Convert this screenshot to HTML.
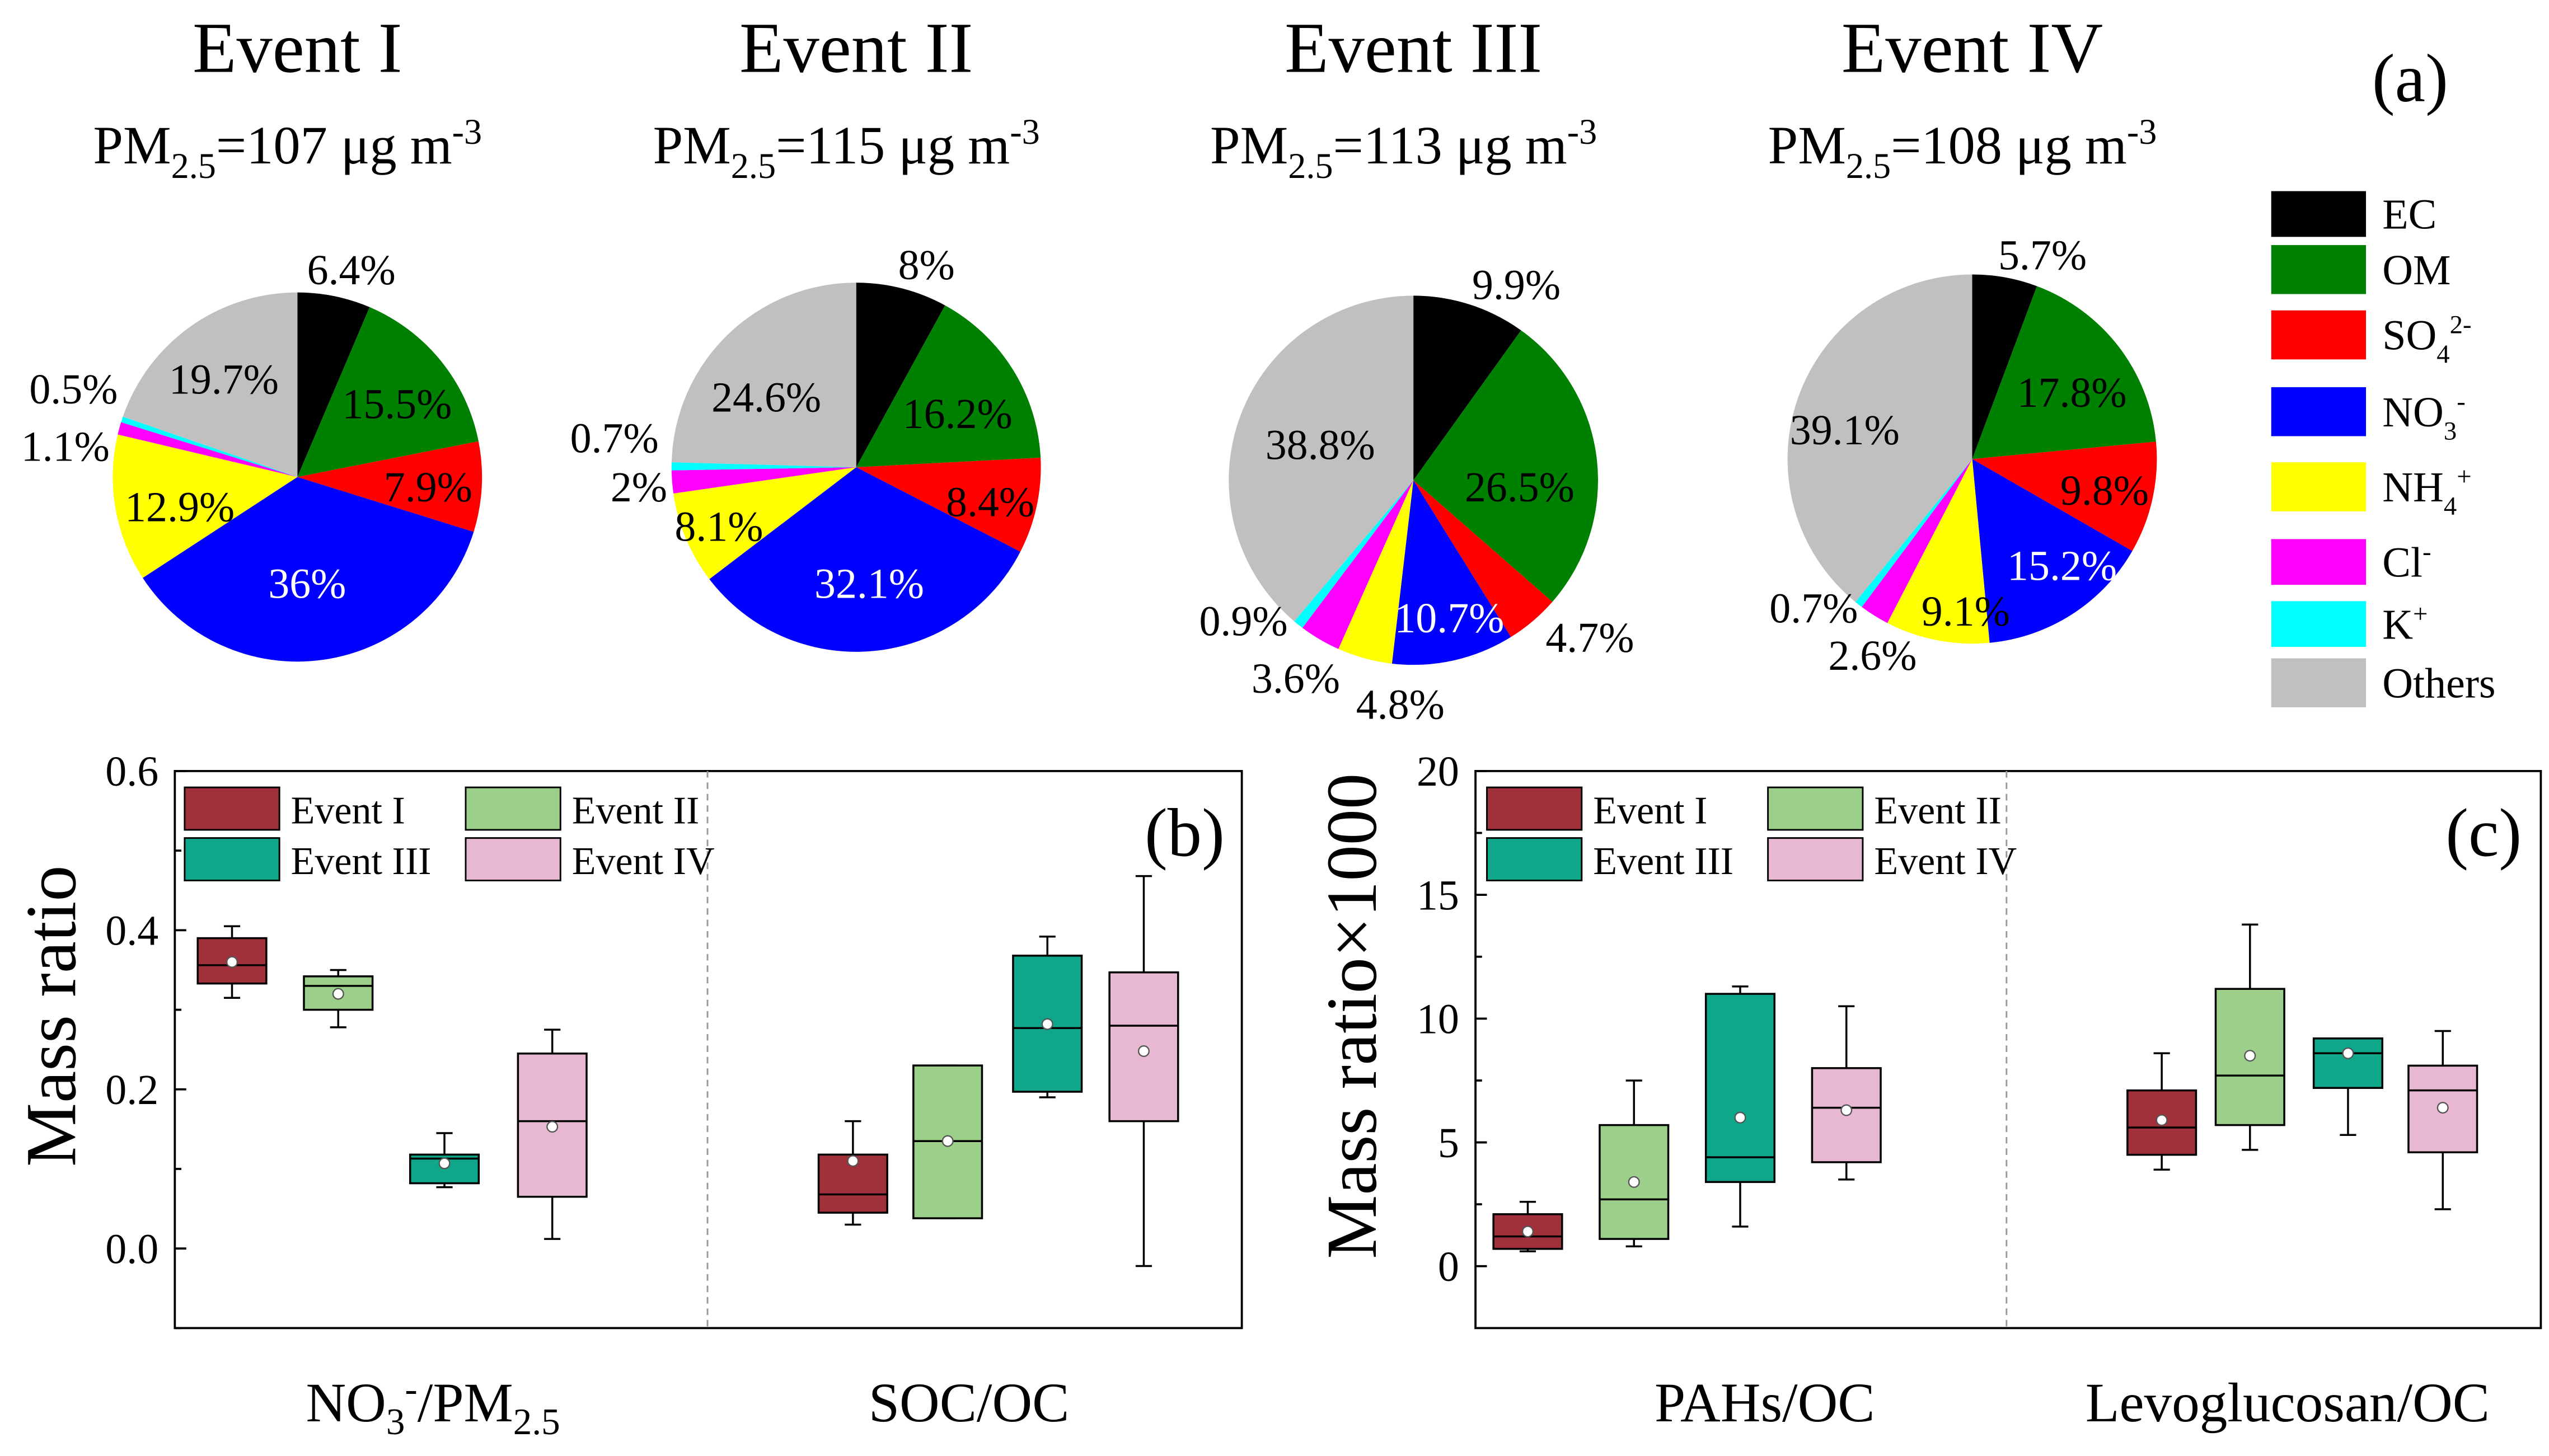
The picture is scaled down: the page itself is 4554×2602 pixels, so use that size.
<!DOCTYPE html>
<html><head><meta charset="utf-8">
<style>
html,body{margin:0;padding:0;background:#fff;}
svg{display:block;font-family:"Liberation Serif",serif;}
</style></head>
<body>
<svg id="chart" width="4554" height="2602" viewBox="0 0 1560 891.3" xmlns="http://www.w3.org/2000/svg">
<g id="pies"></g>
<g id="legendA"></g>
<g id="panelB"></g>
<g id="panelC"></g>
</svg>
<script>
const NS="http://www.w3.org/2000/svg";
// ---- Pie data ----
const components=["EC","OM","SO4","NO3","NH4","Cl","K","Others"];
const compColors=["#000000","#008000","#ff0000","#0000ff","#ffff00","#ff00ff","#00ffff","#c0c0c0"];
const eventNames=["Event I","Event II","Event III","Event IV"];
const pmValues=["107","115","113","108"];
const pieI=[6.4,15.5,7.9,36,12.9,1.1,0.5,19.7];
const pieII=[8,16.2,8.4,32.1,8.1,2,0.7,24.6];
const pieIII=[9.9,26.5,4.7,10.7,4.8,3.6,0.9,38.8];
const pieIV=[5.7,17.8,9.8,15.2,9.1,2.6,0.7,39.1];
const pieLabelsI=["6.4%","15.5%","7.9%","36%","12.9%","1.1%","0.5%","19.7%"];
const pieLabelsII=["8%","16.2%","8.4%","32.1%","8.1%","2%","0.7%","24.6%"];
const pieLabelsIII=["9.9%","26.5%","4.7%","10.7%","4.8%","3.6%","0.9%","38.8%"];
const pieLabelsIV=["5.7%","17.8%","9.8%","15.2%","9.1%","2.6%","0.7%","39.1%"];
const pies=[pieI,pieII,pieIII,pieIV];
const pieLabels=[pieLabelsI,pieLabelsII,pieLabelsIII,pieLabelsIV];
const pieCenters=[[182,292],[524,286],[865,294],[1207,281]];
const pieR=113;
const labelPos=[
[[215,165],[243,247],[262,298],[188,357],[110,310],[40,273],[45,238],[137,232]],
[[567,162],[586,253],[606,307],[532,357],[440,322],[391,298],[376,268],[469,243]],
[[928,174],[930,298],[973,390],[887,378],[857,431],[793,415],[761,380],[808,272]],
[[1250,156],[1268,240],[1288,300],[1262,346],[1203,374],[1146,401],[1110,372],[1129,263]]];

function el(tag,attrs,parent,text){const e=document.createElementNS(NS,tag);for(const k in attrs)e.setAttribute(k,attrs[k]);if(text!==undefined)e.textContent=text;parent.appendChild(e);return e;}

const gp=document.getElementById('pies');
pies.forEach((vals,pi)=>{
  const [cx,cy]=pieCenters[pi];
  const tx=pieCenters[pi][0];
  const t=el('text',{x:tx,y:44,'font-size':44,'text-anchor':'middle'},gp,eventNames[pi]);
  
  
  const pm=el('text',{x:tx-6,y:100,'font-size':33,'text-anchor':'middle'},gp);
  
  
  pm.innerHTML='PM<tspan font-size="22" dy="9">2.5</tspan><tspan dy="-9">='+pmValues[pi]+' μg m</tspan><tspan font-size="22" dy="-12">-3</tspan>';
  const total=vals.reduce((a,b)=>a+b,0);
  let a0=0;
  vals.forEach((v,i)=>{
    const a1=a0+v/total*2*Math.PI;
    const x0=cx+pieR*Math.sin(a0),y0=cy-pieR*Math.cos(a0);
    const x1=cx+pieR*Math.sin(a1),y1=cy-pieR*Math.cos(a1);
    const large=(a1-a0)>Math.PI?1:0;
    const p=el('path',{d:`M${cx},${cy}L${x0},${y0}A${pieR},${pieR} 0 ${large} 1 ${x1},${y1}Z`,fill:compColors[i],stroke:'none'},gp);
    
    
    a0=a1;
  });
  pieLabels[pi].forEach((lab,i)=>{
    const [lx,ly]=labelPos[pi][i];
    const tt=el('text',{x:lx,y:ly+9,'font-size':26,'text-anchor':'middle',fill:i===3?'#fff':'#000'},gp,lab);
    
    
  });
});
const tA=el('text',{x:1475,y:62,'font-size':42,'text-anchor':'middle'},gp,'(a)');



// legend a
const gl=document.getElementById('legendA');
const legY=[117,150,190,237,283,330,368,403];
const legH=[28,30,30,30,30,28,28,30];
const legHTML=['EC','OM','SO<tspan font-size="16" dy="8">4</tspan><tspan font-size="16" dy="-18">2-</tspan>','NO<tspan font-size="16" dy="8">3</tspan><tspan font-size="16" dy="-18">-</tspan>','NH<tspan font-size="16" dy="8">4</tspan><tspan font-size="16" dy="-18">+</tspan>','Cl<tspan font-size="16" dy="-10">-</tspan>','K<tspan font-size="16" dy="-10">+</tspan>','Others'];
components.forEach((c,i)=>{
  const r=el('rect',{x:1390,y:legY[i],width:58,height:legH[i],fill:compColors[i]},gl);
  
  
  const t=el('text',{x:1458,y:legY[i]+legH[i]/2+9,'font-size':26},gl);
  t.innerHTML=legHTML[i];
  
  
});

// ---- Box plot data ----
const boxColors=["#a0313a","#9ccf8a","#10a68a","#e8b8d2"];
// each: [whiskerLow, q1, median, q3, whiskerHigh, mean]
const bNO3=[[0.315,0.333,0.356,0.39,0.405,0.36],[0.278,0.3,0.33,0.342,0.35,0.32],[0.077,0.082,0.113,0.118,0.145,0.107],[0.012,0.065,0.16,0.245,0.275,0.153]];
const bSOC=[[0.03,0.045,0.068,0.118,0.16,0.11],[0.038,0.038,0.135,0.23,0.23,0.135],[0.19,0.197,0.277,0.368,0.392,0.282],[-0.022,0.16,0.28,0.347,0.468,0.248]];
const cPAH=[[0.6,0.7,1.2,2.1,2.6,1.4],[0.8,1.1,2.7,5.7,7.5,3.4],[1.6,3.4,4.4,11.0,11.3,6.0],[3.5,4.2,6.4,8.0,10.5,6.3]];
const cLEV=[[3.9,4.5,5.6,7.1,8.6,5.9],[4.7,5.7,7.7,11.2,13.8,8.5],[5.3,7.2,8.6,9.2,9.2,8.6],[2.3,4.6,7.1,8.1,9.5,6.4]];
const bTicks=["0.0","0.2","0.4","0.6"];
const cTicks=["0","5","10","15","20"];

function panel(gid,cfg){
  const g=document.getElementById(gid);
  const {x0,x1,y0,y1,vmin,vmax,ticks,minor,pos,groups,div,name}=cfg;
  const Y=v=>y1-(v-vmin)/(vmax-vmin)*(y1-y0);
  const f=el('rect',{x:x0,y:y0,width:x1-x0,height:y1-y0,fill:'none',stroke:'#000','stroke-width':1.3},g);
  
  
  const dv=el('line',{x1:div,x2:div,y1:y0,y2:y1,stroke:'#999','stroke-width':1,'stroke-dasharray':'4,3'},g);
  
  
  ticks.forEach(t=>{const v=parseFloat(t);const y=Y(v);
    el('line',{x1:x0,x2:x0+7,y1:y,y2:y,stroke:'#000','stroke-width':1.3},g);
    const tt=el('text',{x:x0-10,y:y+9,'font-size':26,'text-anchor':'end'},g,t);
    
    
  });
  minor.forEach(v=>{const y=Y(v);el('line',{x1:x0,x2:x0+4,y1:y,y2:y,stroke:'#000','stroke-width':1.3},g);});
  groups.forEach((grp,gi)=>grp.forEach((b,i)=>{
    const cx=pos[gi][i],w=42;
    el('line',{x1:cx,x2:cx,y1:Y(b[0]),y2:Y(b[4]),stroke:'#000','stroke-width':1.2},g);
    el('line',{x1:cx-5,x2:cx+5,y1:Y(b[0]),y2:Y(b[0]),stroke:'#000','stroke-width':1.2},g);
    el('line',{x1:cx-5,x2:cx+5,y1:Y(b[4]),y2:Y(b[4]),stroke:'#000','stroke-width':1.2},g);
    const r=el('rect',{x:cx-w/2,y:Y(b[3]),width:w,height:Y(b[1])-Y(b[3]),fill:boxColors[i],stroke:'#000','stroke-width':1.2},g);
    
    
    el('line',{x1:cx-w/2,x2:cx+w/2,y1:Y(b[2]),y2:Y(b[2]),stroke:'#000','stroke-width':1.2},g);
    const m=el('circle',{cx:cx,cy:Y(b[5]),r:3.2,fill:'#fff',stroke:'#555','stroke-width':0.8},g);
    
    
  }));
  const lx=cfg.legX;
  const lp=[[lx,482],[lx+172,482],[lx,513],[lx+172,513]];
  eventNames.forEach((n,i)=>{
    const r=el('rect',{x:lp[i][0],y:lp[i][1],width:58,height:26,fill:boxColors[i],stroke:'#000','stroke-width':1},g);
    
    
    const t=el('text',{x:lp[i][0]+65,y:lp[i][1]+22,'font-size':24},g,n);
    
    
  });
  const pl=el('text',{x:x1-35,y:524,'font-size':42,'text-anchor':'middle'},g,cfg.label);
  
  
  const yt=el('text',{x:0,y:0,'font-size':44,'text-anchor':'middle',transform:`translate(${cfg.ytX},${cfg.ytY}) rotate(-90)`},g,cfg.yTitle);
  
  
  cfg.xLabels.forEach((h,i)=>{
    const t=el('text',{x:cfg.xLabX[i],y:870,'font-size':34,'text-anchor':'middle'},g);
    t.innerHTML=h;
    
    
  });
}
panel('panelB',{name:'b',x0:107,x1:760,y0:472,y1:813,vmin:-0.1,vmax:0.6,ticks:bTicks,minor:[-0.1,0.1,0.3,0.5],
  pos:[[142,207,272,338],[522,580,641,700]],groups:[bNO3,bSOC],div:433,legX:113,label:'(b)',
  yTitle:'Mass ratio',ytX:46,ytY:622,
  xLabels:['NO<tspan font-size="23" dy="8">3</tspan><tspan font-size="23" dy="-20">-</tspan><tspan dy="12">/PM</tspan><tspan font-size="23" dy="8">2.5</tspan>','SOC/OC'],xLabX:[265,593]});
panel('panelC',{name:'c',x0:903,x1:1555,y0:472,y1:813,vmin:-2.5,vmax:20,ticks:cTicks,minor:[2.5,7.5,12.5,17.5],
  pos:[[935,1000,1065,1130],[1323,1377,1437,1495]],groups:[cPAH,cLEV],div:1228,legX:910,label:'(c)',
  yTitle:'Mass ratio×1000',ytX:842,ytY:622,
  xLabels:['PAHs/OC','Levoglucosan/OC'],xLabX:[1080,1400]});
</script>
</body></html>
